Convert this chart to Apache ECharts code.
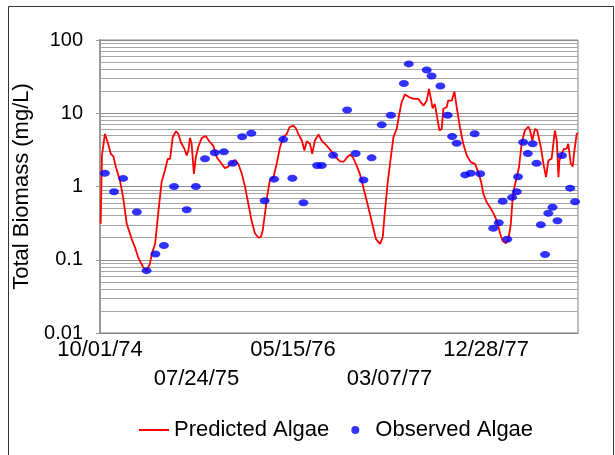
<!DOCTYPE html>
<html>
<head>
<meta charset="utf-8">
<script src="https://cdn.jsdelivr.net/npm/echarts@6/dist/echarts.min.js"></script>
<style>
  html, body { margin: 0; padding: 0; background: #fff; }
  #chart { width: 615px; height: 455px; }
</style>
</head>
<body>
<div id="chart"></div>
<script>
// x values are days since 10/01/74
var labelStepDays = 296;
var lastDay = 1466;
var xTickLabels = ['10/01/74', '07/24/75', '05/15/76', '03/07/77', '12/28/77'];

var predictedDays = [2, 6, 15, 18, 25, 33, 41, 49, 61, 71, 82, 97, 107, 117, 133, 143, 153, 159, 169, 179,
  189, 199, 208, 215, 223, 233, 240, 248, 259, 266, 271, 276, 281, 288, 294, 301, 312, 325, 335, 347,
  358, 373, 383, 393, 404, 414, 424, 435, 445, 455, 465, 475, 486, 493, 499, 506, 513, 521, 532, 542,
  552, 562, 573, 581, 593, 601, 608, 619, 627, 634, 644, 651, 659, 670, 680, 695, 708, 721, 736, 748,
  758, 767, 775, 785, 797, 810, 823, 835, 846, 859, 867, 874, 882, 892, 900, 910, 918, 925, 935, 949,
  963, 976, 992, 1002, 1009, 1014, 1020, 1027, 1034, 1041, 1048, 1053, 1058, 1063, 1068, 1079, 1087, 1094, 1104, 1114,
  1125, 1137, 1150, 1160, 1169, 1176, 1186, 1196, 1208, 1217, 1227, 1235, 1245, 1252, 1260, 1265, 1271, 1278, 1285, 1293,
  1303, 1314, 1319, 1326, 1334, 1341, 1352, 1360, 1368, 1375, 1385, 1390, 1395, 1401, 1406, 1409, 1416, 1423, 1431, 1436,
  1444, 1450, 1454, 1458, 1462, 1466];
var predictedBiomass = [0.31, 2.65, 5.24, 4.96, 3.83, 2.79, 2.57, 1.83, 1.21, 0.71, 0.31, 0.193, 0.149, 0.108, 0.078, 0.071, 0.088, 0.121, 0.165, 0.45,
  1.15, 1.65, 2.39, 2.39, 4.71, 5.68, 5.24, 4.02, 3.27, 2.65, 3.10, 4.62, 3.83, 1.49, 2.51, 3.44, 4.62, 4.86, 4.15, 3.62,
  2.51, 2.04, 1.78, 1.87, 2.08, 2.31, 2.04, 1.49, 0.98, 0.58, 0.34, 0.23, 0.20, 0.203, 0.25, 0.43, 0.75, 1.21, 1.34, 2.04,
  3.44, 4.71, 5.24, 6.44, 6.79, 6.24, 5.24, 4.24, 3.10, 4.15, 3.83, 2.79, 4.24, 5.12, 4.24, 3.62, 3.10, 2.57, 2.21, 2.19,
  2.51, 2.73, 2.51, 2.04, 1.49, 0.88, 0.52, 0.31, 0.193, 0.165, 0.203, 0.47, 1.09, 2.51, 4.71, 6.12, 9.8, 14.1, 18.0, 16.5,
  15.7, 15.7, 12.7, 14.9, 21.5, 16.5, 11.7, 13.4, 8.8, 5.81, 6.12, 11.5, 10.9, 12.1, 14.9, 14.9, 19.8, 12.1, 6.44, 3.83,
  2.65, 2.15, 2.04, 1.57, 1.15, 0.79, 0.61, 0.52, 0.42, 0.34, 0.23, 0.18, 0.168, 0.183, 0.31, 0.64, 0.98, 1.34, 1.83, 3.83,
  5.81, 6.59, 5.81, 4.24, 6.12, 5.81, 3.44, 2.04, 1.34, 2.26, 2.39, 2.26, 5.81, 4.24, 1.34, 2.26, 2.79, 3.27, 3.27, 3.83,
  2.04, 1.87, 2.85, 2.94, 5.24, 5.3];

var observedDays = [15, 43, 71, 113, 143, 170, 196, 227, 266, 294, 322, 352, 380, 407, 436, 464, 505, 534, 562, 590,
  624, 666, 680, 715, 758, 784, 808, 833, 864, 892, 932, 947, 1002, 1017, 1044, 1066, 1080, 1094, 1120, 1137,
  1149, 1166, 1206, 1223, 1235, 1249, 1264, 1278, 1282, 1298, 1312, 1327, 1339, 1352, 1365, 1375, 1388, 1403, 1417, 1442,
  1457];
var observedBiomass = [1.52, 0.85, 1.29, 0.45, 0.071, 0.12, 0.157, 1.0, 0.48, 1.0, 2.39, 2.88, 2.97, 2.08, 4.77, 5.33, 0.64, 1.26, 4.4, 1.3,
  0.6, 1.93, 1.93, 2.67, 11.1, 2.82, 1.23, 2.46, 6.94, 9.4, 25.4, 47.2, 39, 32.3, 23.6, 9.4, 4.81, 3.9, 1.44, 1.52,
  5.24, 1.49, 0.27, 0.32, 0.63, 0.19, 0.71, 0.85, 1.36, 4.02, 2.82, 3.82, 2.08, 0.30, 0.118, 0.43, 0.52, 0.34, 2.65, 0.95,
  0.62];

var decades = [0.01, 0.1, 1, 10];
var minorSteps = [2, 3, 4, 5, 6, 7, 8, 9];

var font = 'Liberation Sans, Arial, sans-serif';

function pairs(xs, ys) {
  return xs.map(function (x, i) { return [x, ys[i]]; });
}

// light gridlines at 2..9 of every decade
var minorLines = [];
decades.forEach(function (d) {
  minorSteps.forEach(function (m) {
    minorLines.push({ yAxis: +(d * m).toPrecision(3) });
  });
});

var chart = echarts.init(document.getElementById('chart'), null, { renderer: 'canvas' });

var option = {
  animation: false,
  backgroundColor: '#fff',
  graphic: [{
    type: 'rect',
    shape: { x: 8.5, y: 6.5, width: 605, height: 460 },
    style: { fill: 'none', stroke: '#333', lineWidth: 1 },
    silent: true
  }],
  grid: {
    left: 100, right: 37, top: 40, bottom: 122,
    show: true, borderColor: '#808080', borderWidth: 1
  },
  legend: {
    left: 134, top: 414,
    itemWidth: 30, itemHeight: 8, itemGap: 22,
    symbolKeepAspect: true,
    textStyle: { fontFamily: font, fontSize: 22, color: '#000' },
    data: [
      { name: 'Predicted Algae', icon: 'path://M0,0L30,0L30,2L0,2Z' },
      { name: 'Observed Algae', icon: 'circle' }
    ]
  },
  xAxis: {
    type: 'value',
    min: 0,
    max: lastDay,
    interval: labelStepDays,
    axisLine: { lineStyle: { color: '#808080', width: 1 } },
    axisTick: { show: false },
    splitLine: { show: false },
    axisLabel: {
      margin: 2,
      fontFamily: font,
      fontSize: 22,
      color: '#000',
      lineHeight: 29,
      verticalAlign: 'top',
      showMaxLabel: false,
      formatter: function (v) {
        var idx = Math.round(v / labelStepDays);
        if (Math.abs(v - idx * labelStepDays) > 0.5 || idx >= xTickLabels.length) return '';
        return idx % 2 ? '\n' + xTickLabels[idx] : xTickLabels[idx];
      }
    }
  },
  yAxis: {
    type: 'log',
    logBase: 10,
    min: 0.01,
    max: 100,
    name: 'Total Biomass (mg/L)',
    nameLocation: 'middle',
    nameGap: 59,
    nameTextStyle: { fontFamily: font, fontSize: 22, color: '#000' },
    axisLine: { show: true, lineStyle: { color: '#999', width: 2 } },
    axisTick: { show: true, inside: false, length: 4, lineStyle: { color: '#999' } },
    splitLine: { show: true, lineStyle: { color: '#8c8c8c', width: 1 } },
    axisLabel: {
      margin: 17,
      fontFamily: font,
      fontSize: 20,
      color: '#000',
      formatter: function (v) { return String(+v.toPrecision(3)); }
    }
  },
  series: [{
    name: 'Predicted Algae',
    type: 'line',
    data: pairs(predictedDays, predictedBiomass),
    symbol: 'none',
    smooth: false,
    lineStyle: { color: '#ff0000', width: 1.8 },
    itemStyle: { color: '#ff0000' },
    z: 3
  }, {
    name: 'Observed Algae',
    type: 'scatter',
    data: pairs(observedDays, observedBiomass),
    symbol: 'circle',
    symbolSize: [10, 7],
    itemStyle: { color: '#0000ff' },
    z: 4,
    markLine: {
      silent: true,
      symbol: ['none', 'none'],
      label: { show: false },
      lineStyle: { color: '#a6a6a6', width: 1, type: 'solid' },
      data: minorLines,
      z: 1
    }
  }]
};

chart.setOption(option);
</script>
</body>
</html>
